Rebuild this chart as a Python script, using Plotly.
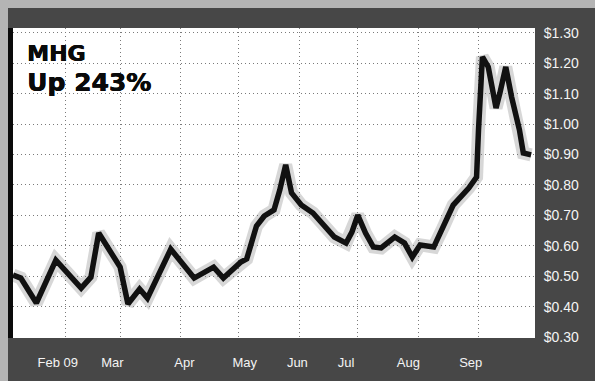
import plotly.graph_objects as go

# MHG share price, 2009
dates = [
    "2009-01-05", "2009-01-09", "2009-01-17", "2009-01-27", "2009-02-09",
    "2009-02-14", "2009-02-18", "2009-02-24", "2009-03-01", "2009-03-05",
    "2009-03-11", "2009-03-15", "2009-03-27", "2009-04-08", "2009-04-18",
    "2009-04-23", "2009-05-02", "2009-05-05", "2009-05-10", "2009-05-14",
    "2009-05-19", "2009-05-22", "2009-05-25", "2009-05-28", "2009-06-02",
    "2009-06-08", "2009-06-14", "2009-06-19", "2009-06-25", "2009-06-28",
    "2009-07-01", "2009-07-05", "2009-07-09", "2009-07-13", "2009-07-20",
    "2009-07-25", "2009-07-29", "2009-08-02", "2009-08-09", "2009-08-14",
    "2009-08-19", "2009-08-27", "2009-08-31", "2009-09-01", "2009-09-02",
    "2009-09-03", "2009-09-06", "2009-09-10", "2009-09-12", "2009-09-15",
    "2009-09-18", "2009-09-22", "2009-09-24", "2009-09-28",
]
prices = [
    0.504, 0.494, 0.412, 0.553, 0.461,
    0.497, 0.642, 0.576, 0.530, 0.409,
    0.458, 0.428, 0.589, 0.494, 0.530,
    0.494, 0.547, 0.557, 0.665, 0.698,
    0.718, 0.784, 0.866, 0.774, 0.734,
    0.708, 0.668, 0.629, 0.609, 0.645,
    0.701, 0.642, 0.596, 0.593, 0.629,
    0.609, 0.563, 0.603, 0.596, 0.662,
    0.734, 0.790, 0.826, 0.981, 1.089,
    1.221, 1.188, 1.053, 1.103, 1.188,
    1.089, 0.981, 0.905, 0.899,
]

# axis ticks
price_ticks = [0.30, 0.40, 0.50, 0.60, 0.70, 0.80, 0.90, 1.00, 1.10, 1.20, 1.30]
price_labels = ["$%.2f" % v for v in price_ticks]
month_starts = ["2009-02-01", "2009-03-01", "2009-04-01", "2009-05-01",
                "2009-06-01", "2009-07-01", "2009-08-01", "2009-09-01"]
month_label_dates = ["2009-01-28", "2009-02-25", "2009-04-03", "2009-05-04",
                     "2009-05-31", "2009-06-25", "2009-07-27", "2009-08-28"]
month_labels = ["Feb 09", "Mar", "Apr", "May", "Jun", "Jul", "Aug", "Sep"]

title_ticker = "MHG"
title_change = "Up 243%"

# page geometry (pixels)
W, H = 595, 381
L, R, T, B = 13, 535, 28, 338
pw, ph = R - L, B - T


def px(x):
    return (x - L) / pw


def py(y):
    return (B - y) / ph


x_range = ["2009-01-05", "2009-09-30"]
y_range = [0.297, 1.316]

frame = "#474747"
ink = "#0a0a0a"
heavy = "0.6px 0 0 %s, 0 0.4px 0 %s" % (ink, ink)
grid = dict(showgrid=True, gridcolor="#7a7a7a", griddash="1px,3px", gridwidth=1)

fig = go.Figure()

# soft grey halo under the line
fig.add_trace(go.Scatter(
    x=dates, y=prices, mode="lines",
    line=dict(color="rgba(110,110,110,0.28)", width=13),
    hoverinfo="skip", showlegend=False,
))
fig.add_trace(go.Scatter(
    x=dates, y=prices, mode="lines",
    line=dict(color="#111111", width=5.5),
    showlegend=False,
))
# carrier for the month-label axis
fig.add_trace(go.Scatter(
    x=[dates[0]], y=[prices[0]], xaxis="x2", mode="markers",
    marker=dict(opacity=0), hoverinfo="skip", showlegend=False,
))

shapes = [
    # top band
    dict(type="rect", xref="paper", yref="paper", x0=px(8), x1=px(W + 2),
         y0=py(T), y1=py(8), fillcolor=frame, line_width=0, layer="below"),
    # right band
    dict(type="rect", xref="paper", yref="paper", x0=px(R), x1=px(W + 2),
         y0=py(H + 2), y1=py(T), fillcolor=frame, line_width=0, layer="below"),
    # bottom band
    dict(type="rect", xref="paper", yref="paper", x0=px(8), x1=px(R),
         y0=py(H + 2), y1=py(B), fillcolor=frame, line_width=0, layer="below"),
    # heavy left rule
    dict(type="rect", xref="paper", yref="paper", x0=px(8), x1=px(L),
         y0=py(B), y1=py(T), fillcolor=ink, line_width=0, layer="below"),
]

headline = ("<span style='font-size:22px'>%s</span><br>"
            "<span style='font-size:25px'>%s</span>" % (title_ticker, title_change))

annotations = [
    dict(text=headline, xref="paper", yref="paper", align="left",
         x=px(26), y=py(40), xanchor="left", yanchor="top", showarrow=False,
         borderpad=0,
         font=dict(family="DejaVu Sans", size=23, color=ink, weight="bold",
                   shadow=heavy)),
]

fig.update_layout(
    width=W, height=H,
    margin=dict(l=L, r=W - R, t=T, b=H - B, pad=0),
    paper_bgcolor="#b4b4b4",
    plot_bgcolor="#ffffff",
    shapes=shapes,
    annotations=annotations,
    xaxis=dict(
        type="date", range=x_range, tickvals=month_starts,
        showticklabels=False, ticks="",
        zeroline=False, showline=False, fixedrange=True, **grid,
    ),
    xaxis2=dict(
        type="date", range=x_range, overlaying="x", anchor="y", side="bottom",
        tickvals=month_label_dates, ticktext=month_labels,
        ticks="outside", ticklen=12, tickcolor="rgba(0,0,0,0)",
        showgrid=False, zeroline=False, showline=False,
        tickfont=dict(family="Liberation Sans", size=13, color="#f4f4f4"),
    ),
    yaxis=dict(
        range=y_range, side="right", tickvals=price_ticks, ticktext=price_labels,
        ticks="outside", ticklen=5, tickcolor="rgba(0,0,0,0)",
        tickfont=dict(family="Liberation Sans", size=14, color="#f4f4f4"),
        zeroline=False, showline=False, **grid,
    ),
)

fig.write_html("out.html")
